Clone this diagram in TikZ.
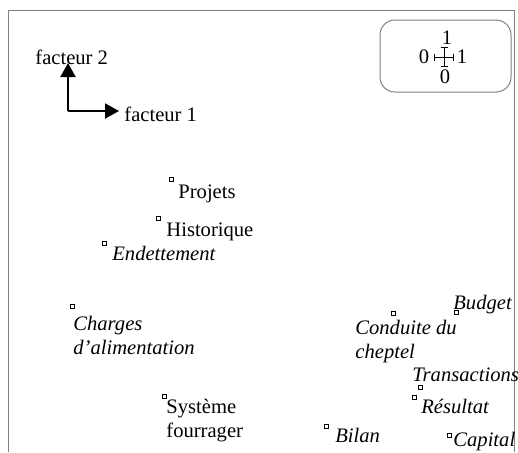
\documentclass[tikz,border=0pt]{standalone}
\usepackage{fontspec}
\setmainfont{Liberation Serif}
\usetikzlibrary{arrows.meta}
\tikzset{
  pnt/.style={draw,rectangle,inner sep=0pt,minimum size=2pt,line width=0.3pt},
  lbl/.style={inner sep=0pt,align=left,font=\fontsize{10.3}{12}\selectfont},
  ilbl/.style={lbl,font=\fontsize{10.3}{12}\selectfont\itshape},
  axe/.style={line width=1pt,-{Triangle[length=7pt,width=7.5pt]}},
}
\begin{document}
\begin{tikzpicture}[x=0.5pt,y=-0.5pt]
  \useasboundingbox (0,0) rectangle (518,452);
  \clip (0,0) rectangle (518,452);
  % cadre
  \draw[gray,line width=0.5pt] (8,452) -- (8,10) -- (514,10) -- (514,452);
  % axes
  \coordinate (org) at (68,111);
  \coordinate (f2tip) at (68,63);
  \coordinate (f1tip) at (119,111);
  \draw[axe] (org) -- (f2tip);
  \draw[axe] (org) -- (f1tip);
  \node[lbl,anchor=base west] (f2) at (35,64) {facteur 2};
  \node[lbl,anchor=base west] (f1) at (124,121) {facteur 1};
  % echelle
  \draw[gray,line width=0.5pt,rounded corners=7.5pt] (380,20) rectangle (511,92);
  \draw[{|[width=3.5pt]}-{|[width=3.5pt]},line width=0.4pt] (434,57) -- (454,57);
  \draw[{|[width=3.5pt]}-{|[width=3.5pt]},line width=0.4pt] (444,47) -- (444,67);
  \node[lbl] (s0l) at (424,57) {0};
  \node[lbl] (s1r) at (462,57) {1};
  \node[lbl] (s1t) at (447,38) {1};
  \node[lbl] (s0b) at (445,77) {0};
  % points
  \foreach \n/\x/\y in {proj/171/179, hist/158/218, endet/104/243, charg/72/306,
      syst/164/396, cond/393/313, budg/456/312, trans/420/387, resu/414/397,
      bilan/326/426, capit/449/435} {
    \node[pnt] (\n) at (\x,\y) {};
  }
  % libelles
  \node[lbl,anchor=base west] (projL) at (178,198) {Projets};
  \node[lbl,anchor=base west] (histL) at (166,236) {Historique};
  \node[ilbl,anchor=base west] (endetL) at (112,260) {Endettement};
  \node[ilbl,anchor=north west] (chargL) at (73,316) {Charges\\d'alimentation};
  \node[lbl,anchor=north west] (systL) at (166,399) {Système\\fourrager};
  \node[ilbl,anchor=north west] (condL) at (355,320) {Conduite du\\cheptel};
  \node[ilbl,anchor=base west] (budgL) at (453,309) {Budget};
  \node[ilbl,anchor=base west] (transL) at (412,381) {Transactions};
  \node[ilbl,anchor=base west] (resuL) at (421,413) {Résultat};
  \node[ilbl,anchor=base west] (bilanL) at (335,442) {Bilan};
  \node[ilbl,anchor=base west] (capitL) at (453,446) {Capital};
\end{tikzpicture}
\end{document}
